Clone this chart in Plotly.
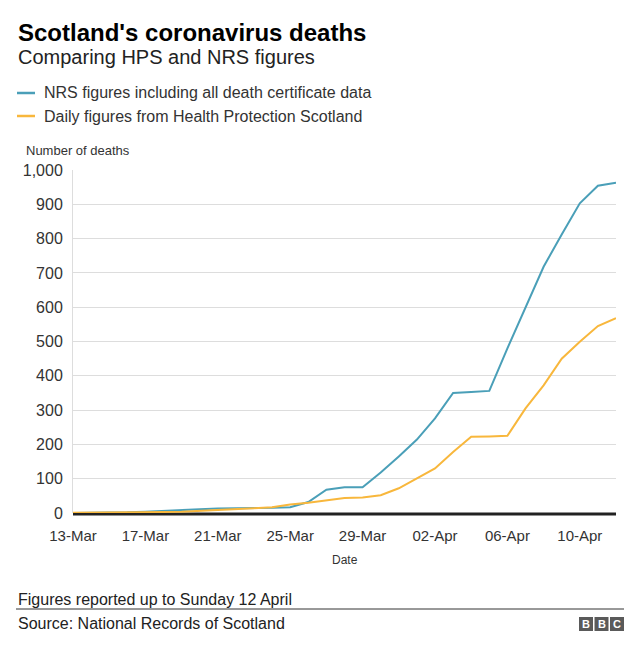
import plotly.graph_objects as go
import pandas as pd

dates = pd.date_range("2020-03-13", "2020-04-12", freq="D")

nrs_deaths = [0, 0, 1, 2, 4, 7, 9, 11, 13, 13, 14, 15, 17, 32, 68, 75, 75, 118, 165,
              214, 276, 350, 353, 356, 480, 600, 718, 812, 903, 954, 963]
hps_deaths = [1, 1, 1, 1, 2, 3, 4, 6, 8, 10, 14, 17, 25, 30, 38, 44, 45, 52, 72,
              100, 130, 178, 222, 223, 225, 305, 372, 450, 499, 545, 568]

series_names = ["NRS figures including all death certificate data",
                "Daily figures from Health Protection Scotland"]
series_colors = ["#4a9fb8", "#f8b73c"]

W_FIG, H_FIG = 640, 653
L, R, T, B = 73, 616, 170, 513
PW, PH = R - L, B - T

def px(x):
    return (x - L) / PW

def py(y):
    return (B - y) / PH

FONT = "Liberation Sans, Arial, sans-serif"

fig = go.Figure()
for name, vals, col in zip(series_names, [nrs_deaths, hps_deaths], series_colors):
    fig.add_trace(go.Scatter(x=dates, y=vals, mode="lines", name=name,
                             line=dict(color=col, width=2), showlegend=False, cliponaxis=False))

fig.update_layout(
    width=W_FIG, height=H_FIG,
    margin=dict(l=L, r=W_FIG - R, t=T, b=H_FIG - B),
    paper_bgcolor="white", plot_bgcolor="white",
    font=dict(family=FONT, color="#222222"),
    xaxis=dict(
        type="date", range=[dates[0], dates[-1]],
        tick0="2020-03-13", dtick=4 * 86400000, tickformat="%d-%b",
        showgrid=False, zeroline=False, showline=False,
        tickfont=dict(size=15, color="#333333"), ticks="", ticklabelstandoff=12,
    ),
    yaxis=dict(
        range=[0, 1000], tickvals=[0, 100, 200, 300, 400, 500, 600, 700, 800, 900, 1000],
        tickformat=",", showgrid=True, gridcolor="#dddddd", gridwidth=1,
        zeroline=False, showline=True, linecolor="#dddddd", linewidth=1,
        tickfont=dict(size=16, color="#333333"), ticks="", ticklabelstandoff=6,
    ),
)

# baseline (beneath the data lines)
fig.add_shape(type="line", xref="paper", yref="paper", x0=0, x1=1, y0=-0.003, y1=-0.003,
              line=dict(color="#222222", width=3), layer="below")

anns = [
    dict(text="<b>Scotland's coronavirus deaths</b>", x=16, y=32, size=24, color="#000000"),
    dict(text="Comparing HPS and NRS figures", x=16, y=57, size=20, color="#222222"),
    dict(text=series_names[0], x=42, y=93, size=16, color="#333333"),
    dict(text=series_names[1], x=42, y=116, size=16, color="#333333"),
    dict(text="Number of deaths", x=24, y=150, size=13, color="#333333"),
    dict(text="Figures reported up to Sunday 12 April", x=16, y=599, size=16, color="#222222"),
    dict(text="Source: National Records of Scotland", x=16, y=623, size=16, color="#222222"),
]
for a in anns:
    fig.add_annotation(text=a["text"], xref="paper", yref="paper", x=px(a["x"]), y=py(a["y"]),
                       xanchor="left", yanchor="middle", showarrow=False,
                       font=dict(size=a["size"], color=a["color"], family=FONT))

fig.add_annotation(text="Date", xref="paper", yref="paper", x=px(345), y=py(560),
                   xanchor="center", yanchor="middle", showarrow=False,
                   font=dict(size=12, color="#333333", family=FONT))

# legend swatches
for yy, col in zip([93, 116], series_colors):
    fig.add_shape(type="line", xref="paper", yref="paper", x0=px(17), x1=px(35), y0=py(yy), y1=py(yy),
                  line=dict(color=col, width=2.5))

# footer rule
fig.add_shape(type="line", xref="paper", yref="paper", x0=px(16), x1=px(624), y0=py(609), y1=py(609),
              line=dict(color="#333333", width=1))

# BBC logo
for i, letter in enumerate("BBC"):
    x0 = 579 + i * 15.5
    fig.add_shape(type="rect", xref="paper", yref="paper", x0=px(x0), x1=px(x0 + 14),
                  y0=py(631), y1=py(617), fillcolor="#5a5a5a", line=dict(width=0))
    fig.add_annotation(text="<b>%s</b>" % letter, xref="paper", yref="paper", x=px(x0 + 7), y=py(624),
                       xanchor="center", yanchor="middle", showarrow=False,
                       font=dict(size=11, color="white", family=FONT))

fig.write_html("out.html", config={"displayModeBar": False},
               post_script="document.body.style.margin='0';")
